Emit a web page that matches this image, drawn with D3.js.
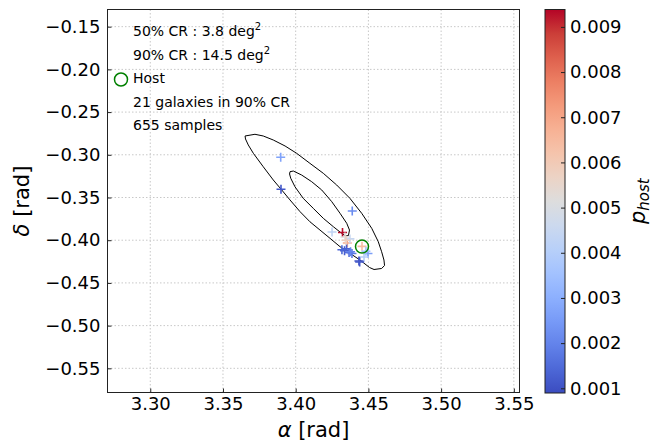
<!DOCTYPE html>
<html>
<head>
<meta charset="utf-8">
<script src="https://cdn.jsdelivr.net/npm/d3@7"></script>
<style>
  body { margin: 0; background: #fff; }
  text { font-family: "DejaVu Sans", sans-serif; fill: #000; }
</style>
</head>
<body>
<div class="svg-container"></div>
<script>
// galaxies inside the 90% region: position (rad) and host probability
const galaxyRa   = [3.3897, 3.3899, 3.4389, 3.4322, 3.4250, 3.4339, 3.4355, 3.4456, 3.4336, 3.4367, 3.4387,
                    3.4497, 3.4470, 3.4435, 3.4373, 3.4350, 3.4318, 3.4346, 3.4440, 3.4377, 3.4483];
const galaxyDec  = [-0.3029, -0.3404, -0.3658, -0.3910, -0.3904, -0.3963, -0.4033, -0.4072, -0.4123, -0.4144, -0.4156,
                    -0.4156, -0.4197, -0.4244, -0.3985, -0.4101, -0.4111, -0.4000, -0.4255, -0.4135, -0.4130];
const galaxyProb = [0.0027, 0.0011, 0.0022, 0.0093, 0.0043, 0.0052, 0.0068, 0.0064, 0.0012, 0.0016, 0.0018,
                    0.0026, 0.0040, 0.0010, 0.0045, 0.0013, 0.0014, 0.0058, 0.0011, 0.0020, 0.0035];

const hostRa = 3.4456;
const hostDec = -0.4075;

// credible region contours
const cr90Ra  = [3.3652, 3.3720, 3.3777, 3.3846, 3.3927, 3.4007, 3.4098, 3.4190, 3.4282, 3.4373, 3.4454,
                 3.4523, 3.4568, 3.4591, 3.4607, 3.4611, 3.4591, 3.4539, 3.4508, 3.4442, 3.4373, 3.4305,
                 3.4236, 3.4167, 3.4098, 3.4030, 3.3961, 3.3904, 3.3846, 3.3777, 3.3709, 3.3674, 3.3655];
const cr90Dec = [-0.2780, -0.2760, -0.2780, -0.2827, -0.2897, -0.2983, -0.3100, -0.3217, -0.3354, -0.3510, -0.3685,
                 -0.3861, -0.4018, -0.4135, -0.4232, -0.4296, -0.4331, -0.4343, -0.4320, -0.4232, -0.4153, -0.4076,
                 -0.3978, -0.3881, -0.3784, -0.3666, -0.3529, -0.3412, -0.3295, -0.3140, -0.2983, -0.2885, -0.2815];
const cr50Ra  = [3.3961, 3.3984, 3.4041, 3.4110, 3.4179, 3.4248, 3.4305, 3.4351, 3.4370, 3.4363, 3.4343,
                 3.4316, 3.4259, 3.4190, 3.4121, 3.4052, 3.3995, 3.3966, 3.3958];
const cr50Dec = [-0.3198, -0.3190, -0.3237, -0.3315, -0.3412, -0.3549, -0.3685, -0.3802, -0.3881, -0.3945, -0.3951,
                 -0.3919, -0.3842, -0.3744, -0.3627, -0.3510, -0.3374, -0.3275, -0.3225];

const xTicks = [3.30, 3.35, 3.40, 3.45, 3.50, 3.55];
const yTicks = [-0.15, -0.20, -0.25, -0.30, -0.35, -0.40, -0.45, -0.50, -0.55];
const cbarTicks = [0.001, 0.002, 0.003, 0.004, 0.005, 0.006, 0.007, 0.008, 0.009];

// coolwarm colour map stops
const coolwarm = ['#3b4cc0', '#4d68d7', '#6282ea', '#779af7', '#8db0fe', '#a3c2ff', '#b8d0f9', '#ccd9ee',
                  '#dddddd', '#ecd3c5', '#f5c4ac', '#f7b194', '#f49a7b', '#ec7f63', '#de604d', '#cb3e38', '#b40426'];

function renderChart() {

  const width = 654;
  const height = 443;
  const plot = { left: 107.5, right: 519.5, top: 9.5, bottom: 392.5 };
  const cbar = { left: 545, right: 565, top: 9.5, bottom: 393 };

  const svg = d3.select('.svg-container')
    .append('svg')
    .attr('width', width)
    .attr('height', height)

  const x = d3.scaleLinear().domain([3.2706, 3.5539]).range([plot.left, plot.right]);
  const y = d3.scaleLinear().domain([-0.1299, -0.5783]).range([plot.top, plot.bottom]);

  const pMin = 0.000896, pMax = 0.009385;
  const colour = d3.scaleLinear()
    .domain(coolwarm.map((c, i) => pMin + (pMax - pMin) * i / (coolwarm.length - 1)))
    .range(coolwarm)
    .interpolate(d3.interpolateRgb)
    .clamp(true);

  // grid
  svg.append('g').selectAll('line')
    .data(xTicks)
    .enter().append('line')
    .attr('x1', d => x(d)).attr('x2', d => x(d))
    .attr('y1', plot.top).attr('y2', plot.bottom)
    .attr('stroke', '#c8c8c8').attr('stroke-dasharray', '1.5,2');
  svg.append('g').selectAll('line')
    .data(yTicks)
    .enter().append('line')
    .attr('y1', d => y(d)).attr('y2', d => y(d))
    .attr('x1', plot.left).attr('x2', plot.right)
    .attr('stroke', '#c8c8c8').attr('stroke-dasharray', '1.5,2');

  // contours
  const line = d3.line().x(d => x(d[0])).y(d => y(d[1])).curve(d3.curveLinearClosed);
  [[cr90Ra, cr90Dec], [cr50Ra, cr50Dec]].forEach(([ra, dec]) => {
    svg.append('path')
      .attr('d', line(ra.map((r, i) => [r, dec[i]])))
      .attr('fill', 'none')
      .attr('stroke', '#000')
      .attr('stroke-width', 1);
  });

  // galaxies as plus markers
  const galaxies = galaxyRa.map((r, i) => ({ ra: r, dec: galaxyDec[i], p: galaxyProb[i] }));
  svg.append('g').selectAll('path')
    .data(galaxies)
    .enter().append('path')
    .attr('d', d => `M${x(d.ra) - 4.5},${y(d.dec)}h9M${x(d.ra)},${y(d.dec) - 4.5}v9`)
    .attr('stroke', d => colour(d.p))
    .attr('stroke-width', 1.6)
    .attr('fill', 'none');

  // host
  svg.append('circle')
    .attr('cx', x(hostRa)).attr('cy', y(hostDec)).attr('r', 6.5)
    .attr('fill', 'none').attr('stroke', 'green').attr('stroke-width', 1.5);

  // axes (ticks inward)
  const xAxis = svg.append('g')
    .attr('transform', `translate(0,${plot.bottom})`)
    .call(d3.axisBottom(x).tickValues(xTicks).tickFormat(d3.format('.2f')).tickSizeInner(-4).tickSizeOuter(0).tickPadding(5));
  const yAxis = svg.append('g')
    .attr('transform', `translate(${plot.left},0)`)
    .call(d3.axisLeft(y).tickValues(yTicks).tickFormat(d3.format('.2f')).tickSizeInner(-4).tickSizeOuter(0).tickPadding(7));
  [xAxis, yAxis].forEach(a => {
    a.select('.domain').remove();
    a.selectAll('text').style('font-size', '18px').attr('fill', '#000');
    a.selectAll('.tick line').attr('stroke', '#222');
  });

  svg.append('rect')
    .attr('x', plot.left).attr('y', plot.top)
    .attr('width', plot.right - plot.left).attr('height', plot.bottom - plot.top)
    .attr('fill', 'none').attr('stroke', '#222').attr('stroke-width', 1);

  svg.append('text')
    .attr('x', (plot.left + plot.right) / 2).attr('y', 437)
    .attr('text-anchor', 'middle').style('font-size', '21px')
    .html('<tspan font-style="italic">α</tspan> [rad]');
  svg.append('text')
    .attr('transform', `translate(29,${(plot.top + plot.bottom) / 2}) rotate(-90)`)
    .attr('text-anchor', 'middle').style('font-size', '21px')
    .html('<tspan font-style="italic">δ</tspan> [rad]');

  // legend text
  const legendY = [36, 59.5, 83, 106.5, 130];
  const t1 = svg.append('text').attr('x', 133).attr('y', legendY[0]).style('font-size', '14px');
  t1.append('tspan').text('50% CR : 3.8 deg');
  t1.append('tspan').attr('dy', -6).style('font-size', '10px').text('2');
  const t2 = svg.append('text').attr('x', 133).attr('y', legendY[1]).style('font-size', '14px');
  t2.append('tspan').text('90% CR : 14.5 deg');
  t2.append('tspan').attr('dy', -6).style('font-size', '10px').text('2');
  svg.append('circle')
    .attr('cx', 121).attr('cy', legendY[2] - 3.5).attr('r', 6.5)
    .attr('fill', 'none').attr('stroke', 'green').attr('stroke-width', 1.5);
  svg.append('text').attr('x', 133).attr('y', legendY[2]).style('font-size', '14px').text('Host');
  svg.append('text').attr('x', 133).attr('y', legendY[3]).style('font-size', '14px').text('21 galaxies in 90% CR');
  svg.append('text').attr('x', 133).attr('y', legendY[4]).style('font-size', '14px').text('655 samples');

  // colour bar
  const grad = svg.append('defs').append('linearGradient')
    .attr('id', 'cw').attr('x1', 0).attr('x2', 0).attr('y1', 1).attr('y2', 0);
  grad.selectAll('stop')
    .data(coolwarm)
    .enter().append('stop')
    .attr('offset', (d, i) => i / (coolwarm.length - 1))
    .attr('stop-color', d => d);

  svg.append('rect')
    .attr('x', cbar.left).attr('y', cbar.top)
    .attr('width', cbar.right - cbar.left).attr('height', cbar.bottom - cbar.top)
    .attr('fill', 'url(#cw)');

  const cy = d3.scaleLinear().domain([pMin, pMax]).range([cbar.bottom, cbar.top]);
  const cAxis = svg.append('g')
    .attr('transform', `translate(${cbar.right},0)`)
    .call(d3.axisRight(cy).tickValues(cbarTicks).tickFormat(d3.format('.3f')).tickSizeInner(-4).tickSizeOuter(0).tickPadding(5));
  cAxis.select('.domain').remove();
  cAxis.selectAll('text').style('font-size', '18px').attr('fill', '#000');
  cAxis.selectAll('.tick line').attr('stroke', '#222');

  svg.append('rect')
    .attr('x', cbar.left).attr('y', cbar.top)
    .attr('width', cbar.right - cbar.left).attr('height', cbar.bottom - cbar.top)
    .attr('fill', 'none').attr('stroke', '#222').attr('stroke-width', 1);

  svg.append('text')
    .attr('transform', `translate(645,${(cbar.top + cbar.bottom) / 2}) rotate(-90)`)
    .attr('text-anchor', 'middle').style('font-size', '21px').style('font-style', 'italic')
    .html('p<tspan dy="4" style="font-size:15px">host</tspan>');
}

renderChart();
</script>
</body>
</html>
